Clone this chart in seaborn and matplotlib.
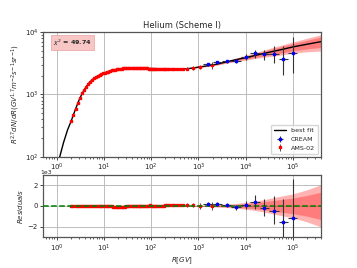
import matplotlib
matplotlib.use('Agg')
import matplotlib.pyplot as plt
import numpy as np
import pandas as pd
import seaborn as sns

# AMS-02 helium, R^2.7 * flux
ams_R = [2.03, 2.27, 2.53, 2.82, 3.13, 3.46, 3.83, 4.22, 4.65, 5.12, 5.63, 6.18, 6.77, 7.42,
         8.11, 8.86, 9.67, 10.5, 11.5, 12.5, 13.5, 14.7, 15.9, 17.3, 18.7, 20.3, 21.9, 23.7,
         25.7, 27.7, 29.9, 32.3, 34.8, 37.5, 40.4, 43.5, 46.8, 50.3, 54.1, 58.2, 62.5, 67.2,
         72.3, 77.6, 83.4, 89.7, 96.4, 104, 112, 120, 130, 141, 153, 167, 183, 201, 222, 245,
         275, 310, 354, 409, 481, 589, 762, 1070, 1970]
ams_flux = [370, 470, 590, 730, 880, 1040, 1180, 1320, 1480, 1600, 1700, 1800, 1900, 1980,
            2050, 2110, 2170, 2220, 2270, 2320, 2370, 2420, 2460, 2500, 2530, 2560, 2580, 2595,
            2605, 2610, 2615, 2620, 2625, 2625, 2625, 2625, 2620, 2620, 2620, 2615, 2615, 2610,
            2610, 2605, 2605, 2600, 2600, 2595, 2590, 2590, 2585, 2580, 2575, 2570, 2565, 2560,
            2555, 2550, 2545, 2540, 2540, 2545, 2560, 2590, 2650, 2760, 2980]
ams_err = [8, 9, 10, 12, 13, 15, 16, 17, 19, 20, 21, 22, 23, 24,
           25, 25, 26, 26, 27, 27, 28, 28, 29, 29, 30, 30, 30, 31,
           31, 32, 32, 33, 33, 34, 34, 35, 35, 36, 37, 38, 39, 40,
           41, 42, 43, 44, 45, 47, 49, 51, 53, 55, 58, 61, 65, 69, 74, 80,
           87, 95, 105, 118, 135, 160, 195, 250, 380]
ams_res = [0, 5, -5, 10, 0, -5, 5, 0, -10, 0, 5, 0, -5, 0,
           -10, -15, -20, -25, -30, -40, -50, -60, -70, -75, -80, -85, -85, -80,
           -75, -70, -60, -50, -40, -30, -20, -10, 0, 5, 10, 15, 20, 20,
           25, 25, 30, 30, 35, 30, 25, 20, 20, 15, 20, 25, 30, 35, 40, 45,
           50, 55, 60, 70, 80, 90, 60, -20, -30]

# CREAM helium
cream_R = [1.6e3, 2.5e3, 4.0e3, 6.3e3, 1.0e4, 1.6e4, 2.5e4, 4.0e4, 6.3e4, 1.0e5]
cream_xlo = [1.25e3, 2.0e3, 3.2e3, 5.0e3, 8.0e3, 1.25e4, 2.0e4, 3.2e4, 5.0e4, 8.0e4]
cream_xhi = [2.0e3, 3.2e3, 5.0e3, 8.0e3, 1.25e4, 2.0e4, 3.2e4, 5.0e4, 8.0e4, 1.25e5]
cream_flux = [3015, 3245, 3400, 3490, 3990, 4530, 4370, 4410, 3710, 4580]
cream_lo = [150, 170, 200, 250, 400, 650, 780, 1250, 1690, 2400]
cream_hi = [150, 170, 200, 250, 400, 700, 850, 1450, 2250, 3800]
cream_res = [220, 160, 60, -130, 100, 360, -230, -510, -1580, -1190]

# best fit curve
fit_R = [1.16, 1.4, 1.7, 2.03, 2.5, 3.0, 3.5, 4.2, 5.0, 6.0, 7.0, 8.5, 10, 12.5, 15, 20, 25,
         32, 45, 70, 100, 150, 220, 320, 450, 600, 800, 1000, 1600, 2500, 4000, 6300,
         1e4, 1.6e4, 2.5e4, 4e4, 6.3e4, 1e5, 2e5, 4e5]
fit_val = [100, 170, 270, 375, 580, 820, 1050, 1320, 1570, 1780, 1930, 2080, 2200, 2330, 2440,
           2550, 2600, 2625, 2625, 2610, 2600, 2578, 2556, 2542, 2550, 2590, 2660, 2740, 2880,
           3060, 3330, 3600, 3880, 4200, 4550, 4920, 5300, 5750, 6350, 7000]

# uncertainty bands (from 320 GV on)
band_R = [320, 450, 600, 800, 1000, 1600, 2500, 4000, 6300, 1e4, 1.6e4, 2.5e4, 4e4, 6.3e4,
          1e5, 2e5, 4e5]
band_fit = [2542, 2550, 2590, 2660, 2740, 2880, 3060, 3330, 3600, 3880, 4200, 4550, 4920,
            5300, 5750, 6350, 7000]
band_outer = [0, 10, 20, 35, 50, 80, 120, 160, 230, 330, 450, 600, 800, 980, 1150, 1550, 2050]
band_inner = [0, 6, 13, 22, 32, 52, 78, 105, 150, 215, 290, 390, 520, 640, 750, 1000, 1330]

sns.set_theme(style='ticks')
plt.rcParams['font.family'] = ['DejaVu Sans']
plt.rcParams.update({'font.size': 5, 'axes.edgecolor': '#555555', 'axes.linewidth': 0.9,
                     'xtick.major.size': 2.5, 'ytick.major.size': 2.5,
                     'xtick.minor.size': 1.5, 'ytick.minor.size': 1.5,
                     'xtick.major.width': 0.6, 'ytick.major.width': 0.6,
                     'xtick.minor.width': 0.5, 'ytick.minor.width': 0.5})

fig = plt.figure(figsize=(3.57, 2.68), dpi=100)
ax1 = fig.add_axes([0.121, 0.414, 0.779, 0.467])
ax2 = fig.add_axes([0.121, 0.116, 0.779, 0.232])

bR = np.array(band_R)
bf = np.array(band_fit)
bo = np.array(band_outer)
bi = np.array(band_inner)
cx_err = [np.array(cream_R) - np.array(cream_xlo), np.array(cream_xhi) - np.array(cream_R)]

# top panel
ax1.fill_between(bR, bf - bo, bf + bo, color='red', alpha=0.3, lw=0)
ax1.fill_between(bR, bf - bi, bf + bi, color='red', alpha=0.3, lw=0)
sns.lineplot(x=fit_R, y=fit_val, color='black', lw=1.0, ax=ax1, label='best fit', sort=False)
ax1.errorbar(cream_R, cream_flux, xerr=cx_err, yerr=[cream_lo, cream_hi], fmt='s', ms=1.7,
             color='blue', ecolor='#333333', elinewidth=0.8, capsize=0, label='CREAM', zorder=4)
ax1.errorbar(ams_R, ams_flux, yerr=ams_err, fmt='s', ms=2.0, color='red', ecolor='#333333',
             elinewidth=0.6, capsize=0, label='AMS-02', zorder=3)
ax1.set_xscale('log')
ax1.set_yscale('log')
ax1.set_xlim(0.52, 4e5)
ax1.set_ylim(100, 1e4)
ax1.grid(True, which='major', color='#bdbdbd', lw=0.7)
ax1.set_title('Helium (Scheme I)', fontsize=6, pad=3)
ax1.set_ylabel(r'$R^{2.7}dN/dR(GV^{1.7}m^{-2}s^{-1}sr^{-1})$', fontsize=5, labelpad=2)
ax1.tick_params(labelsize=5, pad=1.0)
ax1.text(0.035, 0.915, r'$\chi^2$ = 49.74', transform=ax1.transAxes, fontsize=4.6,
         fontweight='semibold', va='center', ha='left',
         bbox=dict(boxstyle='square,pad=0.35', fc='#f9c6c6', ec='#e8a0a0', lw=0.5))
ax1.legend(loc='lower right', fontsize=4.6, frameon=True, borderpad=0.5, handlelength=1.8,
           labelspacing=0.5, framealpha=0.8, edgecolor='#cccccc')

# residual panel
ax2.fill_between(bR, -bo, bo, color='red', alpha=0.3, lw=0)
ax2.fill_between(bR, -bi, bi, color='red', alpha=0.3, lw=0)
sns.lineplot(x=[0.52, 4e5], y=[0, 0], color='green', lw=1.1, ls='--', ax=ax2, zorder=5)
ax2.errorbar(ams_R, ams_res, yerr=ams_err, fmt='s', ms=2.0, color='red', ecolor='#333333',
             elinewidth=0.6, capsize=0, zorder=3)
ax2.errorbar(cream_R, cream_res, xerr=cx_err, yerr=[cream_lo, cream_hi], fmt='s', ms=1.7,
             color='blue', ecolor='#333333', elinewidth=0.8, capsize=0, zorder=6)
ax2.set_xscale('log')
ax2.set_xlim(0.52, 4e5)
ax2.set_ylim(-3000, 3000)
ax2.set_yticks([-2000, 0, 2000])
ax2.set_yticklabels(['\u22122', '0', '2'])
ax2.text(-0.012, 1.0, '1e3', transform=ax2.transAxes, fontsize=4.4, ha='left', va='bottom')
ax2.grid(True, which='major', color='#bdbdbd', lw=0.7)
ax2.set_xlabel(r'$R[GV]$', fontsize=5, labelpad=1)
ax2.set_ylabel(r'$Residuals$', fontsize=5, labelpad=2)
ax2.tick_params(labelsize=5, pad=1.5)

fig.savefig('out.png', dpi=100)
